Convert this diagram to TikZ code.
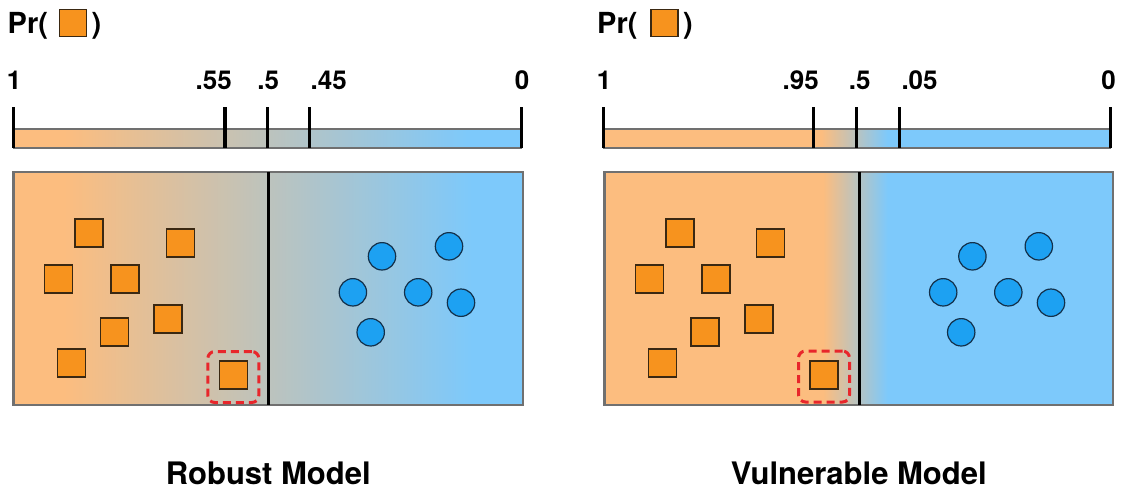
\documentclass[tikz,border=0pt]{standalone}
\usepackage{fontspec}
\setmainfont{TeX Gyre Heros}
\definecolor{lorange}{HTML}{FCBD7F}
\definecolor{lblue}{HTML}{7DC9FB}
\definecolor{sqorange}{HTML}{F7931E}
\definecolor{sqedge}{HTML}{3A2812}
\definecolor{cblue}{HTML}{1DA1F2}
\definecolor{cedge}{HTML}{13304A}
\definecolor{bordergray}{HTML}{707070}
\definecolor{dashred}{HTML}{E8262B}
\pgfdeclarehorizontalshading{robust}{100bp}{color(0bp)=(lorange); color(30bp)=(lorange); color(70bp)=(lblue); color(100bp)=(lblue)}
\pgfdeclarehorizontalshading{vuln}{100bp}{color(0bp)=(lorange); color(46.5bp)=(lorange); color(52.8bp)=(lblue); color(100bp)=(lblue)}
\pgfdeclarehorizontalshading{vulnbar}{100bp}{color(0bp)=(lorange); color(46.5bp)=(lorange); color(53bp)=(lblue); color(100bp)=(lblue)}
\begin{document}
\begin{tikzpicture}[x=1pt,y=-1pt,
  sq/.style={rectangle,draw=sqedge,fill=sqorange,line width=1.2pt,minimum size=28pt,inner sep=0pt},
  dot/.style={circle,draw=cedge,fill=cblue,line width=1.2pt,minimum size=27.4pt,inner sep=0pt},
  ticka/.style={line width=3.3pt,black},
  divider/.style={line width=3pt,black},
  panelborder/.style={draw=bordergray,line width=2.5pt},
  barborder/.style={draw=bordergray,line width=1.8pt},
  lbl/.style={font=\fontsize{26}{30}\selectfont\bfseries,inner sep=0pt},
  prl/.style={font=\fontsize{29}{33}\selectfont\bfseries,inner sep=0pt,anchor=base west},
  ttl/.style={font=\fontsize{31}{36}\selectfont\bfseries,inner sep=0pt,anchor=base},
  hl/.style={rectangle,draw=dashred,line width=3pt,dash pattern=on 8pt off 5pt,rounded corners=7pt,minimum width=51pt,minimum height=51pt,inner sep=0pt}
]
\useasboundingbox (0,0) rectangle (1123,491);

% ---------------- Left panel: Robust ----------------
\node[prl] (prL) at (7.5,33.5) {Pr(};
\node[sq,minimum size=27pt] (prsqL) at (73,23) {};
\node[prl] (prcL) at (91.5,33.5) {)};

\shade[shading=robust] (13.5,129) rectangle (521.5,148);
\draw[barborder] (13.5,129) rectangle (521.5,148);
\foreach \x/\n in {13.6/a,225/b,267.5/c,309.5/d,521.5/e}{
  \coordinate (tLt\n) at (\x,107);
  \coordinate (tLb\n) at (\x,148);
  \draw[ticka] (tLt\n) -- (tLb\n);
}
\node[lbl,anchor=base] (lL1) at (14,89.5) {1};
\node[lbl,anchor=base east] (lL2) at (232,89.5) {.55};
\node[lbl,anchor=base] (lL3) at (268.3,89.5) {.5};
\node[lbl,anchor=base west] (lL4) at (310.5,89.5) {.45};
\node[lbl,anchor=base] (lL5) at (522,89.5) {0};

\shade[shading=robust] (13.3,172) rectangle (523,405);
\draw[panelborder] (13.3,172) rectangle (523,405);
\coordinate (dLt) at (268.6,172);
\coordinate (dLb) at (268.6,405);
\draw[divider] (dLt) -- (dLb);

\foreach \p/\n in {{(89,233)}/1,{(180.6,243)}/2,{(58.6,279)}/3,{(125,279)}/4,{(168,319)}/5,{(114.6,332)}/6,{(71.6,363)}/7,{(233.6,375)}/8}
  \node[sq] (sqL\n) at \p {};
\node[hl] (hlL) at (233.3,377) {};
\foreach \p/\n in {{(382,256.3)}/1,{(449,246.3)}/2,{(352.9,292.3)}/3,{(418.2,292.3)}/4,{(461,302.7)}/5,{(370.7,332.3)}/6}
  \node[dot] (cL\n) at \p {};

\node[ttl] (tRobust) at (268.3,484.3) {Robust Model};

% ---------------- Right panel: Vulnerable ----------------
\node[prl] (prR) at (597,33.5) {Pr(};
\node[sq,minimum size=27pt] (prsqR) at (664.5,23) {};
\node[prl] (prcR) at (683,33.5) {)};

\shade[shading=vulnbar] (603.5,129) rectangle (1110.5,148);
\draw[barborder] (603.5,129) rectangle (1110.5,148);
\foreach \x/\n in {603.5/a,813.7/b,856.8/c,899.5/d,1110.2/e}{
  \coordinate (tRt\n) at (\x,107);
  \coordinate (tRb\n) at (\x,148);
  \draw[ticka] (tRt\n) -- (tRb\n);
}
\node[lbl,anchor=base] (lR1) at (604,89.5) {1};
\node[lbl,anchor=base east] (lR2) at (819,89.5) {.95};
\node[lbl,anchor=base] (lR3) at (859.7,89.5) {.5};
\node[lbl,anchor=base west] (lR4) at (901.3,89.5) {.05};
\node[lbl,anchor=base] (lR5) at (1108.6,89.5) {0};

\shade[shading=vuln] (604.6,172) rectangle (1113,405);
\draw[panelborder] (604.6,172) rectangle (1113,405);
\coordinate (dRt) at (859.5,172);
\coordinate (dRb) at (859.5,405);
\draw[divider] (dRt) -- (dRb);

\foreach \p/\n in {{(680,233)}/1,{(770.7,243)}/2,{(649.6,279)}/3,{(716,279)}/4,{(759,319)}/5,{(705,332)}/6,{(662.7,363)}/7,{(824,375)}/8}
  \node[sq] (sqR\n) at \p {};
\node[hl] (hlR) at (824,376.5) {};
\foreach \p/\n in {{(972.4,256.3)}/1,{(1038.8,246.3)}/2,{(943.2,292.3)}/3,{(1008.3,292.3)}/4,{(1051,302.7)}/5,{(961.2,332.3)}/6}
  \node[dot] (cR\n) at \p {};

\node[ttl] (tVuln) at (858.8,484.3) {Vulnerable Model};
\end{tikzpicture}
\end{document}
